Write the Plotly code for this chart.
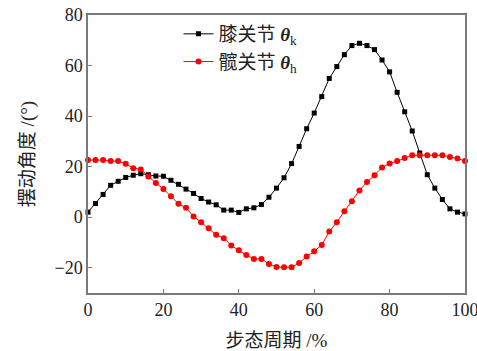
import plotly.graph_objects as go

gait = list(range(0, 101, 2))
knee = [2.0, 5.4, 9.0, 12.6, 14.2, 15.7, 16.6, 17.2, 16.8, 16.3, 16.2, 14.6, 13.0, 11.1, 9.4, 7.4,
        6.0, 4.9, 2.8, 2.8, 1.9, 3.3, 3.7, 5.0, 7.9, 11.5, 15.6, 21.2, 28.0, 35.0, 41.2, 47.7,
        54.9, 59.6, 64.3, 67.9, 68.8, 67.9, 66.3, 62.2, 57.5, 49.4, 41.7, 34.1, 25.4, 16.8,
        11.5, 7.0, 3.3, 2.0, 1.3]
hip = [22.6, 22.6, 22.6, 22.2, 22.2, 21.1, 19.4, 18.9, 16.1, 13.5, 11.2, 8.3, 5.3, 3.7, 0.3, -2.0,
       -4.4, -7.0, -8.3, -11.2, -13.1, -15.0, -16.5, -16.5, -18.5, -19.7, -19.8, -19.8, -18.1,
       -15.6, -13.5, -11.0, -5.7, -2.0, 2.3, 6.3, 10.6, 13.9, 16.6, 19.7, 21.2, 22.2, 23.4, 24.5,
       24.5, 24.5, 24.5, 24.5, 23.8, 23.2, 22.2]

x_ticks = [0, 20, 40, 60, 80, 100]
y_ticks = [-20, 0, 20, 40, 60, 80]

font_main = "Liberation Serif, Times New Roman, Noto Sans CJK SC, serif"

fig = go.Figure()
fig.add_trace(go.Scatter(x=gait, y=knee, mode="lines+markers",
                         name="膝关节 <b><i>θ</i></b><sub>k</sub>",
                         line=dict(color="black", width=1),
                         marker=dict(symbol="square", size=5, color="black"),
                         cliponaxis=False))
fig.add_trace(go.Scatter(x=gait, y=hip, mode="lines+markers",
                         name="髋关节 <b><i>θ</i></b><sub>h</sub>",
                         line=dict(color="#ff0000", width=1),
                         marker=dict(symbol="circle", size=6, color="#ff0000"),
                         cliponaxis=False))

axis_common = dict(showline=True, linecolor="#7a7a7a", linewidth=1.5, mirror=True,
                   ticks="inside", ticklen=4, tickcolor="#7a7a7a", showgrid=False,
                   zeroline=False, automargin=False, ticklabeloverflow="allow",
                   tickfont=dict(family=font_main, size=18, color="#222"))

fig.update_xaxes(range=[0, 100], tickvals=x_ticks,
                 title=dict(text="步态周期 /%", font=dict(family=font_main, size=19, color="#222"),
                            standoff=18),
                 **axis_common)
fig.update_yaxes(range=[-30, 80], tickvals=y_ticks,
                 title=dict(text="摆动角度 /(°)", font=dict(family=font_main, size=19, color="#222"),
                            standoff=15),
                 **axis_common)

fig.update_layout(
    width=477, height=351,
    margin=dict(l=88, r=12, t=15, b=58),
    paper_bgcolor="white", plot_bgcolor="white",
    showlegend=True,
    legend=dict(x=0.24, y=1.0, xanchor="left", yanchor="top",
                bgcolor="rgba(0,0,0,0)", font=dict(family=font_main, size=19, color="#222"),
                itemwidth=30, tracegroupgap=0),
)

fig.write_html("out.html")
